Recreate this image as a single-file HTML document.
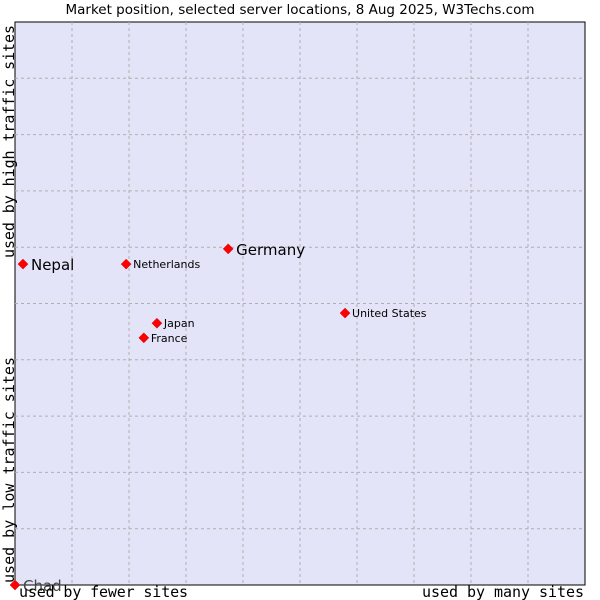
<!DOCTYPE html>
<html><head><meta charset="utf-8"><style>
body{margin:0;background:#fff;}
svg{display:block;font-family:"DejaVu Sans","Liberation Sans",sans-serif;}
</style></head><body>
<svg id="chart" width="600" height="600">
<text x="300" y="14" text-anchor="middle" font-size="13.5" fill="#000">Market position, selected server locations, 8 Aug 2025, W3Techs.com</text>
<rect x="15" y="22" width="570" height="563" fill="#e3e4f8" stroke="#000" stroke-width="1"/>
<g id="grid"></g>
<g id="points"></g>
<text font-family="DejaVu Sans Mono,Liberation Mono,monospace" font-size="15" textLength="233" transform="translate(14,258) rotate(-90)">used by high traffic sites</text>
<text font-family="DejaVu Sans Mono,Liberation Mono,monospace" font-size="15" textLength="226" transform="translate(14,583) rotate(-90)">used by low traffic sites</text>
<text x="19" y="597" font-family="DejaVu Sans Mono,Liberation Mono,monospace" font-size="15" textLength="169">used by fewer sites</text>
<text x="422" y="597" font-family="DejaVu Sans Mono,Liberation Mono,monospace" font-size="15" textLength="162">used by many sites</text>
</svg>
<script>
const names=["Chad","Nepal","Netherlands","Germany","United States","Japan","France"];
const xVals=[0,1.4,19.5,37.4,57.9,24.9,22.6];
const yVals=[0,57.0,57.0,59.7,48.3,46.5,43.9];
const big=[true,true,false,true,false,false,false];
const L=15,R=585,T=22,B=585;
const sx=v=>L+v/100*(R-L), sy=v=>B-v/100*(B-T);
const NS="http://www.w3.org/2000/svg";
const grid=document.getElementById('grid');
for(let i=1;i<10;i++){
  const v=document.createElementNS(NS,'line');
  v.setAttribute('x1',sx(i*10));v.setAttribute('x2',sx(i*10));v.setAttribute('y1',T);v.setAttribute('y2',B);
  v.setAttribute('stroke','#b0b0b0');v.setAttribute('stroke-dasharray','3,3');
  
  
  grid.appendChild(v);
  const h=document.createElementNS(NS,'line');
  h.setAttribute('y1',sy(i*10));h.setAttribute('y2',sy(i*10));h.setAttribute('x1',L);h.setAttribute('x2',R);
  h.setAttribute('stroke','#b0b0b0');h.setAttribute('stroke-dasharray','3,3');
  
  
  grid.appendChild(h);
}
const pts=document.getElementById('points');
names.forEach((n,i)=>{
  const x=sx(xVals[i]),y=sy(yVals[i]);
  const d=document.createElementNS(NS,'path');
  d.setAttribute('d',`M${x},${y-5}L${x+5},${y}L${x},${y+5}L${x-5},${y}Z`);
  d.setAttribute('fill','#f00');d.setAttribute('stroke','#c00');d.setAttribute('stroke-width','0.5');
  
  
  pts.appendChild(d);
  const t=document.createElementNS(NS,'text');
  t.setAttribute('x',x+(big[i]?8:7));t.setAttribute('y',y+(big[i]?6:4));
  t.setAttribute('font-size',big[i]?15:11);
  t.setAttribute('fill',n==="Chad"?'#444':'#000');
  t.textContent=n;
  
  
  pts.appendChild(t);
});
</script>
</body></html>
